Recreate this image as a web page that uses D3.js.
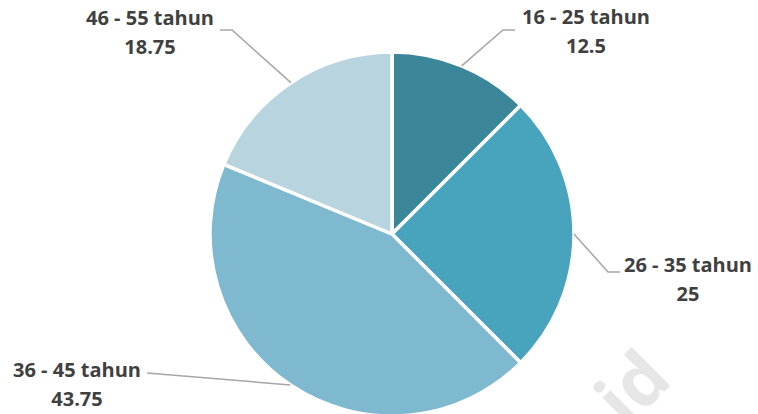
<!DOCTYPE html>
<html>
<head>
<meta charset="utf-8">
<script src="https://cdn.jsdelivr.net/npm/d3@7/dist/d3.min.js"></script>
<style>
  html, body { margin: 0; padding: 0; background: #fff; }
  svg { display: block; }
</style>
</head>
<body>
<div id="chart"></div>
<script>
// data
const categories = ["16 - 25 tahun", "26 - 35 tahun", "36 - 45 tahun", "46 - 55 tahun"];
const values = [12.5, 25, 43.75, 18.75];
const colors = ["#3b8799", "#48a4bc", "#7fb9cf", "#b7d4df"];

// where each label sits, and how its leader line bends (layout only)
const labelLayout = [
  { x: 586, y: 24, elbow: [503, 30], end: [515, 30], angle: null },
  { x: 688, y: 272, elbow: [608, 272], end: [620, 272], angle: null },
  { x: 77, y: 377, elbow: null, end: [147, 373], angle: 214 },
  { x: 150, y: 25, elbow: [232, 30], end: [220, 30], angle: null }
];

const width = 758;
const height = 414;
const cx = 392, cy = 234, radius = 182;
const font_family = "'Open Sans', 'Liberation Sans', sans-serif";

const svg = d3.select("#chart")
  .append("svg")
  .attr("width", width)
  .attr("height", height);

// faint watermark, mostly off the bottom of the picture
svg.append("text")
  .attr("transform", "translate(612,444) rotate(-45)")
  .attr("font-family", font_family)
  .attr("font-weight", 700)
  .attr("font-size", 72)
  .attr("fill", "#e6e6e6")
  .text(".id");

const pie = d3.pie().sort(null).value(d => d);
const arcs = pie(values);
const arc = d3.arc().innerRadius(0).outerRadius(radius);

const g = svg.append("g").attr("transform", `translate(${cx},${cy})`);

g.selectAll("path.slice")
  .data(arcs)
  .enter().append("path")
  .attr("class", "slice")
  .attr("d", arc)
  .attr("fill", (d, i) => colors[i])
  .attr("stroke", "#fff")
  .attr("stroke-width", 3.5)
  .attr("stroke-linejoin", "round");

// leader lines
const line = d3.line();
svg.selectAll("path.leader")
  .data(arcs)
  .enter().append("path")
  .attr("class", "leader")
  .attr("fill", "none")
  .attr("stroke", "#a6a6a6")
  .attr("stroke-width", 1.5)
  .attr("d", (d, i) => {
    const lay = labelLayout[i];
    const a = lay.angle === null ? (d.startAngle + d.endAngle) / 2 : lay.angle * Math.PI / 180;
    const p = d3.pointRadial(a, radius);
    const pts = [[cx + p[0], cy + p[1]]];
    if (lay.elbow) pts.push(lay.elbow);
    pts.push(lay.end);
    return line(pts);
  });

// labels
const labels = svg.selectAll("g.label")
  .data(arcs)
  .enter().append("g")
  .attr("class", "label")
  .attr("transform", (d, i) => `translate(${labelLayout[i].x},${labelLayout[i].y})`)
  .attr("font-family", font_family)
  .attr("font-weight", 700)
  .attr("font-size", 20)
  .attr("fill", "#404040")
  .attr("text-anchor", "middle");

labels.append("text")
  .text((d, i) => categories[i]);

labels.append("text")
  .attr("y", 29)
  .text(d => d.data);
</script>
</body>
</html>
